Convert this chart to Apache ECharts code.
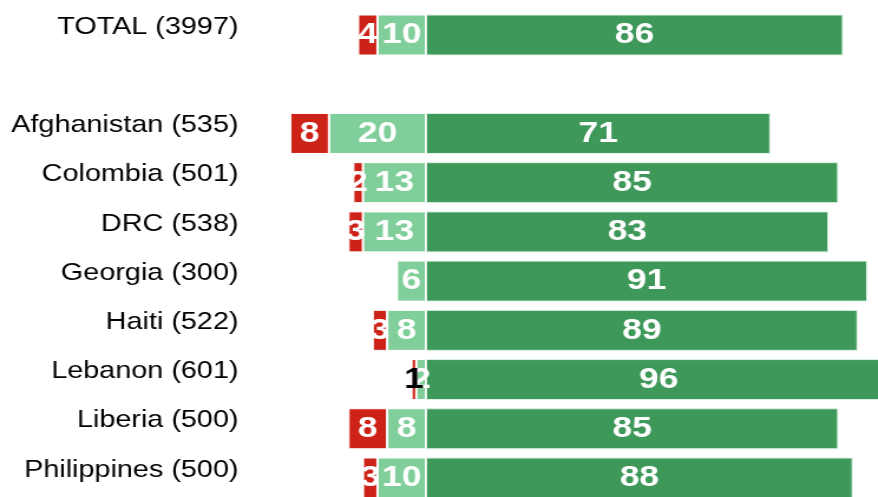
<!DOCTYPE html>
<html>
<head>
<meta charset="utf-8">
<script src="https://cdn.jsdelivr.net/npm/echarts@6/dist/echarts.min.js"></script>
<style>
  html, body { margin: 0; padding: 0; overflow: hidden; background: #fff; }
  /* the reference is stretched sideways, so the whole chart is too */
  #chart { width: 780px; height: 510px; transform: scaleX(1.18); transform-origin: 0 0; }
</style>
</head>
<body>
<div id="chart"></div>
<script>
// categories top to bottom (second row is an empty spacer)
var categories = ['TOTAL (3997)', '', 'Afghanistan (535)', 'Colombia (501)', 'DRC (538)',
  'Georgia (300)', 'Haiti (522)', 'Lebanon (601)', 'Liberia (500)', 'Philippines (500)'];
// shares in %, red and light green are drawn to the left of zero
var redValues = [4, null, 8, 2, 3, 0, 3, 1, 8, 3];
var lightValues = [10, null, 20, 13, 13, 6, 8, 2, 8, 10];
var darkValues = [86, null, 71, 85, 83, 91, 89, 96, 85, 88];

var RED = '#cd2217';
var LIGHT = '#80cf9b';
var DARK = '#3d9859';
var FONT = 'Liberation Sans, Arial, Helvetica, sans-serif';

function neg(arr) {
  return arr.map(function (v, i) {
    if (v === null) return null;
    var item = { value: -v };
    // tiny bar in Lebanon row gets a dark label
    if (arr === redValues && categories[i] === 'Lebanon (601)') {
      item.label = { color: '#000' };
    }
    return item;
  });
}

function labelFmt(p) {
  var v = Math.abs(p.value);
  return v ? String(v) : '';
}

var barLabel = {
  show: true,
  position: 'inside',
  color: '#fff',
  fontSize: 30,
  fontWeight: 'bold',
  fontFamily: FONT,
  formatter: labelFmt
};

var chart = echarts.init(document.getElementById('chart'));
var option = {
  animation: false,
  grid: { left: 237.7, width: 534.3, top: 10.4, height: 492.2, containLabel: false },
  xAxis: {
    type: 'value',
    min: -30,
    max: 100,
    show: false
  },
  yAxis: {
    type: 'category',
    data: categories,
    inverse: true,
    axisLine: { show: false, onZero: false },
    axisTick: { show: false },
    splitLine: { show: false },
    axisLabel: {
      margin: 35.6,
      fontSize: 24.4,
      color: '#000',
      fontFamily: FONT,
      verticalAlign: 'bottom',
      lineHeight: 16
    }
  },
  series: [
    {
      name: 'light', type: 'bar', stack: 'all', barWidth: 41,
      data: neg(lightValues),
      itemStyle: { color: LIGHT, borderColor: '#fff', borderWidth: 1 },
      label: barLabel
    },
    {
      name: 'red', type: 'bar', stack: 'all', barWidth: 41,
      data: neg(redValues),
      itemStyle: { color: RED, borderColor: '#fff', borderWidth: 1 },
      label: barLabel
    },
    {
      name: 'dark', type: 'bar', stack: 'all', barWidth: 41,
      data: darkValues,
      itemStyle: { color: DARK, borderColor: '#dff2e5', borderWidth: 1 },
      label: barLabel
    }
  ]
};
chart.setOption(option);
</script>
</body>
</html>
